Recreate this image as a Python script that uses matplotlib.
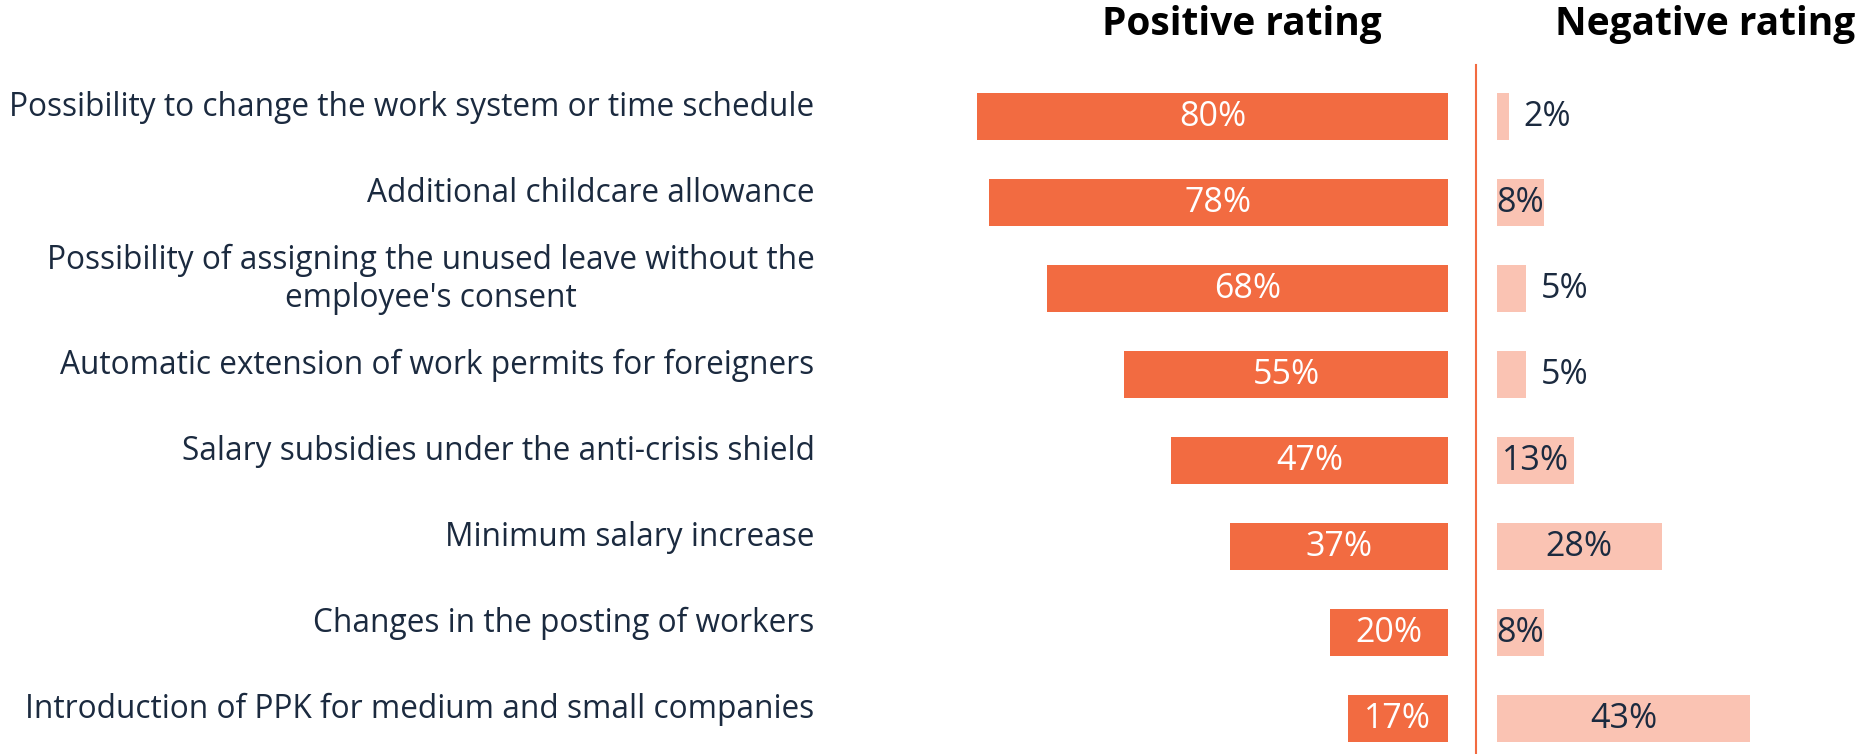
import matplotlib
matplotlib.use("Agg")
import matplotlib.pyplot as plt
from matplotlib.lines import Line2D

categories = [
    "Possibility to change the work system or time schedule",
    "Additional childcare allowance",
    "Possibility of assigning the unused leave without the\nemployee's consent",
    "Automatic extension of work permits for foreigners",
    "Salary subsidies under the anti-crisis shield",
    "Minimum salary increase",
    "Changes in the posting of workers",
    "Introduction of PPK for medium and small companies",
]
positive = [80, 78, 68, 55, 47, 37, 20, 17]
negative = [2, 8, 5, 5, 13, 28, 8, 43]

orange = "#F26B41"
pink = "#FAC3B3"
navy = "#1B2A3F"
font = ["Open Sans", "DejaVu Sans"]

W, H = 1858, 754
fig = plt.figure(figsize=(W / 100, H / 100), dpi=100)

rows = list(range(len(categories)))
ax_bottom = 0.001
ax_height = 0.9125

# positive side: bars grow leftwards from the divider
ax_pos = fig.add_axes([859 / W, ax_bottom, 589 / W, ax_height])
ax_pos.barh(rows, positive, height=0.55, color=orange)
ax_pos.set_xlim(100, 0)
ax_pos.set_ylim(7.4, -0.6)
ax_pos.axis("off")
for y, v in zip(rows, positive):
    ax_pos.text(v / 2, y, f"{v}%", ha="center", va="center",
                color="white", fontsize=24.5, family=font)

# negative side
ax_neg = fig.add_axes([1497 / W, ax_bottom, 359 / W, ax_height])
ax_neg.barh(rows, negative, height=0.55, color=pink)
ax_neg.set_xlim(0, 61)
ax_neg.set_ylim(7.4, -0.6)
ax_neg.axis("off")
for y, v in zip(rows, negative):
    if v < 6:
        ax_neg.text(v + 2.5, y, f"{v}%", ha="left", va="center",
                    color=navy, fontsize=24.5, family=font)
    else:
        ax_neg.text(v / 2, y, f"{v}%", ha="center", va="center",
                    color=navy, fontsize=24.5, family=font)

# category labels, right aligned next to the positive bars
for y, c in zip(rows, categories):
    ax_pos.annotate(c, xy=(0, y), xycoords=("axes fraction", "data"),
                    xytext=(-32, 7), textcoords="offset points",
                    ha="right", va="center", multialignment="center",
                    color=navy, fontsize=22.8, family=font)

# divider
fig.add_artist(Line2D([1476 / W, 1476 / W], [0, 1 - 65 / H],
                      color=orange, lw=1.5))

fig.text(1242 / W, 1 - 24 / H, "Positive rating", ha="center", va="center",
         fontsize=28, fontweight="bold", color="black", family=font)
fig.text(1705 / W, 1 - 24 / H, "Negative rating", ha="center", va="center",
         fontsize=28, fontweight="bold", color="black", family=font)

fig.savefig("out.png", dpi=100, facecolor="white")
